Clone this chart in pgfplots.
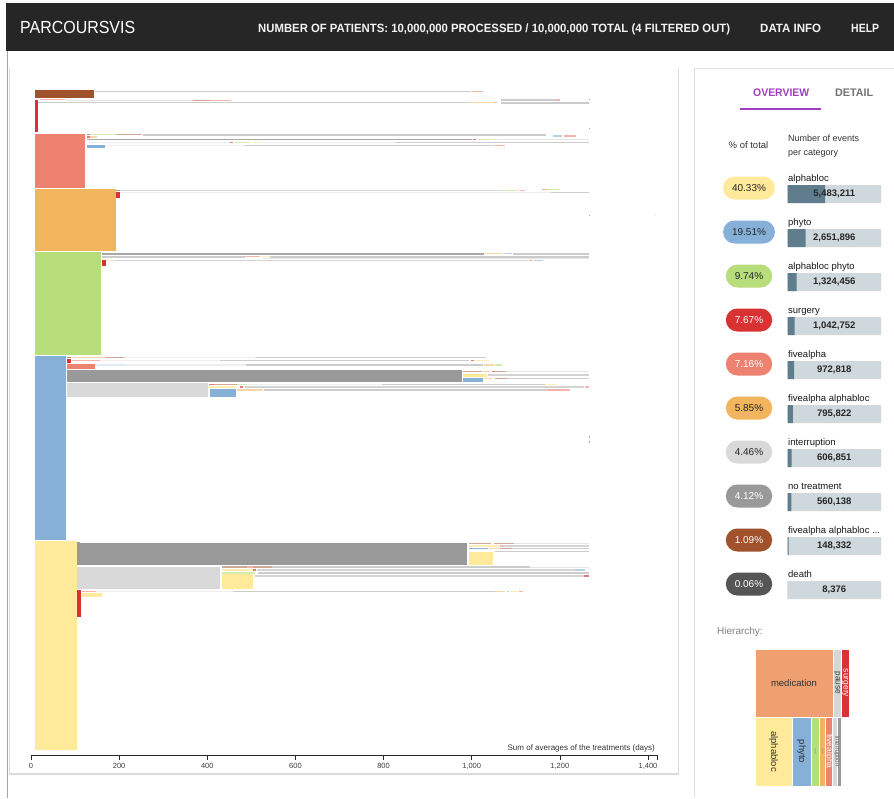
\documentclass[border=0pt]{standalone}
\usepackage{fontspec}
\setmainfont{Liberation Sans}
\usepackage{graphicx}
\usepackage{pgfplots}
\pgfplotsset{compat=1.18}
\definecolor{hdr}{HTML}{262626}
\definecolor{cYel}{HTML}{FFE99A}
\definecolor{cBlu}{HTML}{86B0D8}
\definecolor{cGrn}{HTML}{B8DD7B}
\definecolor{cRed}{HTML}{D93232}
\definecolor{cSal}{HTML}{EE8271}
\definecolor{cOra}{HTML}{F2B45D}
\definecolor{cLgr}{HTML}{D9D9D9}
\definecolor{cGry}{HTML}{999999}
\definecolor{cBrn}{HTML}{A0522D}
\definecolor{cDrk}{HTML}{555555}
\definecolor{cMed}{HTML}{EEA070}
\definecolor{purp}{HTML}{A33EC2}
\definecolor{barbg}{HTML}{CFD8DC}
\definecolor{bardk}{HTML}{5F7D8C}
\definecolor{g0}{HTML}{999999}
\definecolor{g1}{HTML}{CCCCCC}
\definecolor{g2}{HTML}{E6E6E6}
\definecolor{g3}{HTML}{A8A8A8}
\definecolor{g4}{HTML}{EEEEEE}
\definecolor{g5}{HTML}{D4D4D4}
\colorlet{lY}{cYel!75!white}
\colorlet{lB}{cBlu!60!white}
\colorlet{lG}{cGrn!60!white}
\colorlet{lS}{cSal!60!white}
\colorlet{lO}{cOra!55!white}
\colorlet{lBr}{cBrn!50!white}
\colorlet{lR}{cRed!65!white}
\newcommand{\R}[5]{\addplot[fill=#5, draw=none] coordinates {(#1,-#3) (#2,-#3) (#2,-#4) (#1,-#4)};}
\newcommand{\T}[5]{\addplot[fill=#5, draw=white, line width=0.6pt] coordinates {(#1,-#3) (#2,-#3) (#2,-#4) (#1,-#4) (#1,-#3)};}
\newcommand{\fs}[1]{\fontsize{#1}{#1}\selectfont}
\newcommand{\pill}[4]{\node[fill=#2, text=#3, rounded corners=11.5pt, minimum height=23pt, inner xsep=9pt, inner ysep=0pt, font=\fs{10}] at (749,-#1) {#4};}
\newcommand{\lab}[2]{\node[anchor=base west, inner sep=0pt, font=\fs{9.5}, text=black!90] at (788,-#1) {#2};}
\begin{document}
\begin{tikzpicture}[x=1pt,y=1pt]
\path[use as bounding box, fill=white] (0,0) rectangle (894,-798);
% header
\fill[hdr] (6,-3) rectangle (894,-51);
\node[anchor=base west, inner sep=0pt, text=white] at (20,-33.3) {\resizebox{115pt}{\height}{\fs{17.5}PARCOURSVIS}};
\node[anchor=base west, inner sep=0pt, text=white!95!black] at (258,-32) {\resizebox{472pt}{\height}{\fs{12}\bfseries NUMBER OF PATIENTS: 10,000,000 PROCESSED / 10,000,000 TOTAL (4 FILTERED OUT)}};
\node[anchor=base west, inner sep=0pt, text=white!95!black] at (760,-32) {\resizebox{61pt}{\height}{\fs{12}\bfseries DATA INFO}};
\node[anchor=base west, inner sep=0pt, text=white!95!black] at (851,-32) {\resizebox{28pt}{\height}{\fs{12}\bfseries HELP}};
% left line
\draw[black!35, line width=0.8pt] (7,-51) -- (7,-798);
% cards
\fill[black!14] (9,-67.5) rectangle (679,-775);
\fill[white] (10,-68) rectangle (678,-773);
\fill[black!12] (694,-67.5) rectangle (894,-798);
\fill[white] (695,-68.5) rectangle (894,-798);
% tabs
\node[anchor=base west, inner sep=0pt, text=purp] at (753,-96) {\resizebox{56pt}{\height}{\fs{11}\bfseries OVERVIEW}};
\node[anchor=base west, inner sep=0pt, text=black!55] at (835,-96) {\resizebox{38pt}{\height}{\fs{11}\bfseries DETAIL}};
\fill[purp] (740,-107.5) rectangle (821,-109.5);
\node[anchor=base, inner sep=0pt, font=\fs{9.5}, text=black!80] at (748.5,-148.5) {\% of total};
\node[anchor=base west, inner sep=0pt, font=\fs{9}, text=black!80] at (788,-141) {Number of events};
\node[anchor=base west, inner sep=0pt, font=\fs{9}, text=black!80] at (788,-155.5) {per category};
% pills
\pill{188}{cYel}{black!85}{40.33\%}
\pill{232}{cBlu}{black!85}{19.51\%}
\pill{276}{cGrn}{black!85}{9.74\%}
\pill{320}{cRed}{white}{7.67\%}
\pill{364}{cSal}{white}{7.16\%}
\pill{408}{cOra}{black!85}{5.85\%}
\pill{452}{cLgr}{black!85}{4.46\%}
\pill{496}{cGry}{white}{4.12\%}
\pill{540}{cBrn}{white}{1.09\%}
\pill{584}{cDrk}{white}{0.06\%}
\lab{181}{alphabloc}
\lab{225}{phyto}
\lab{269}{alphabloc phyto}
\lab{313}{surgery}
\lab{357}{fivealpha}
\lab{401}{fivealpha alphabloc}
\lab{445}{interruption}
\lab{489}{no treatment}
\lab{533}{fivealpha alphabloc ...}
\lab{577}{death}
\node[anchor=base west, inner sep=0pt, font=\fs{10}, text=black!50] at (717,-634) {Hierarchy:};

% ===== main chart =====
\begin{axis}[
  at={(31pt,-755pt)}, anchor=south west,
  scale only axis, width=626pt, height=670pt,
  xmin=0, xmax=1420.5, ymin=-755, ymax=-85,
  axis x line*=bottom, axis y line=none,
  x axis line style={-, line width=0.8pt, black!85},
  xtick={0,200,...,1400},
  extra x ticks={1420.5}, extra x tick labels={},
  tick align=outside, major tick length=5pt,
  xtick style={line width=0.6pt, black!85},
  ticklabel style={font=\fs{7.5}, text=black!75},
  /pgf/number format/assume math mode=true,
  /pgf/number format/1000 sep={,},
  clip=false,
]
% group 1
\R{9}{143}{90}{98}{cBrn}
\R{145}{998}{90.5}{92}{g1}
\R{1001}{1026}{90.5}{92}{lS}
\R{9}{16.5}{100}{132}{cRed}
\R{20}{77}{98.5}{99.8}{lS}
\R{77}{368}{99.5}{100.8}{g2}
\R{368}{406}{99.5}{100.8}{lBr}
\R{406}{454}{99.5}{100.8}{lS}
\R{1066}{1194}{99}{100.5}{g1}
\R{1194}{1200}{99}{100.5}{lS}
\R{17}{994}{101.5}{103}{g1}
\R{995}{1046}{101.5}{103}{lO}
\R{1048}{1057}{101.5}{103}{lS}
\R{1066}{1266}{102}{103.5}{g1}
% group 2
\R{9}{122.5}{134}{188}{cSal}
\R{126}{134}{133.5}{135}{g0}
\R{134}{192}{133.5}{135}{lG}
\R{194}{253}{133.5}{135}{lBr}
\R{254}{1169}{133.5}{135.5}{g1}
\R{1184}{1205}{135}{136.5}{lB}
\R{1210}{1237}{135}{136.5}{lS}
\R{126}{134}{136}{137.5}{lR}
\R{134}{150}{136}{137.5}{lO}
\R{126}{1001}{138.5}{140}{g3}
\R{1003}{1010}{138.5}{140}{lR}
\R{1014}{1048}{138.5}{140}{lG}
\R{1050}{1055}{138.5}{140}{lO}
\R{1057}{1266}{138.5}{140}{g2}
\R{126}{452}{141.5}{143}{g4}
\R{452}{458}{141.5}{143}{lR}
\R{463}{497}{141.5}{143}{lG}
\R{504}{524}{141.5}{143}{lY}
\R{524}{827}{141.5}{143}{g4}
\R{827}{1266}{141.5}{143}{g1}
\R{168}{486}{144.5}{146}{g4}
\R{486}{1048}{144.5}{146}{g1}
\R{1050}{1075}{144.5}{146}{lS}
\R{126}{168}{145}{148}{cBlu}
% group 3
\R{9}{192}{189}{251}{cOra}
\R{193}{202}{189.5}{191}{g0}
\R{202}{1064}{189.5}{191}{g5}
\R{1064}{1100}{189.5}{191}{lG}
\R{1103}{1107}{189.5}{191}{lO}
\R{1110}{1121}{189.5}{191}{lS}
\R{1159}{1171}{188.5}{190}{lS}
\R{1171}{1200}{188.5}{190}{lG}
\R{202}{1180}{191.8}{193.2}{g4}
\R{1180}{1266}{191.8}{193.2}{g1}
\R{193}{201}{192}{198}{cRed}
% group 4
\R{9}{159}{252}{355}{cGrn}
\R{161}{1028}{252.5}{254.5}{g3}
\R{1030}{1068}{252.5}{254}{lO}
\R{1070}{1075}{252.5}{254}{lG}
\R{1075}{1091}{252.5}{254}{lB}
\R{1093}{1266}{253}{254.5}{g1}
\R{161}{485}{256}{257.5}{g1}
\R{485}{520}{255.5}{257}{lS}
\R{524}{542}{255.5}{257}{lY}
\R{542}{1266}{256}{257.5}{g1}
\R{526}{1266}{258.2}{259.4}{g2}
\R{171}{188}{259.5}{261}{lY}
\R{188}{1128}{259.5}{261}{g5}
\R{1130}{1139}{259.5}{261}{lS}
\R{1141}{1161}{259.5}{261}{lB}
\R{162}{171}{260}{266}{cRed}
% group 5
\R{9}{79}{356}{540}{cBlu}
\R{82}{91}{356.5}{358}{g0}
\R{91}{166}{356.5}{358}{lO}
\R{168}{211}{356.5}{358}{lBr}
\R{211}{504}{356.5}{358}{g4}
\R{508}{1032}{356.5}{358}{g1}
\R{82}{90}{359}{362.5}{cRed}
\R{93}{157}{359.5}{361}{lS}
\R{157}{429}{359.5}{361}{g4}
\R{429}{994}{359.5}{361}{g1}
\R{998}{1005}{359.5}{361}{lR}
\R{1007}{1039}{359.5}{361}{lY}
\R{82}{144.5}{364}{369}{cSal}
\R{145}{213}{364}{365.5}{cBlu!25!white}
\R{213}{487}{364}{365.5}{g4}
\R{487}{1026}{364}{365.5}{g1}
\R{1028}{1050}{364}{365.5}{lO}
\R{1053}{1069}{364}{365.5}{lG}
\R{82}{977}{370.3}{382.3}{cGry}
\R{980}{1023}{370.5}{372}{lBr}
\R{1026}{1042}{370.5}{372}{lO}
\R{1046}{1053}{370.5}{372}{lR}
\R{1053}{1078}{370.5}{372}{lBr}
\R{1078}{1266}{370.5}{372}{g2}
\R{980}{1035}{373.5}{376.5}{cYel}
\R{1037}{1266}{374}{375.5}{g5}
\R{1028}{1048}{377.5}{379}{lO}
\R{1053}{1080}{377.5}{379}{lBr}
\R{1080}{1266}{377.5}{379}{g1}
\R{980}{1026}{378.3}{382.3}{cBlu}
\R{82}{401.6}{383}{397}{cLgr}
\R{404}{415}{383.5}{385}{lR}
\R{415}{467}{383.5}{385}{lBr}
\R{467}{490}{383.5}{385}{lG}
\R{490}{796}{383.5}{385}{g4}
\R{796}{1166}{383.5}{385}{g1}
\R{1166}{1193}{383.5}{385}{lY}
\R{404}{467}{386.3}{387.7}{lY}
\R{474}{481}{386.3}{387.7}{lR}
\R{485}{1254}{386.3}{387.7}{g5}
\R{1256}{1266}{386.3}{387.7}{lS}
\R{467}{526}{389}{390.5}{lO}
\R{528}{1170}{389}{390.5}{g1}
\R{1170}{1222}{389}{390.5}{lS}
\R{406}{465}{389}{397}{cBlu}
% group 6
\R{9}{104}{541}{750}{cYel}
\R{104}{111}{541.5}{543}{g0}
\R{104}{989}{542.5}{565}{cGry}
\R{994}{1044}{542.5}{544}{lBr}
\R{1051}{1096}{542.5}{544}{lBr}
\R{1096}{1266}{542.5}{544}{g2}
\R{994}{1062}{545}{546.5}{lY}
\R{1064}{1071}{545}{546.5}{lS}
\R{1071}{1266}{545}{546.5}{g5}
\R{994}{1037}{547.5}{549}{cBlu}
\R{1039}{1062}{547.5}{549}{lO}
\R{1064}{1089}{547.5}{549}{lBr}
\R{1089}{1266}{547.5}{549}{g1}
\R{1053}{1266}{550.5}{552}{g1}
\R{994}{1049}{551.7}{565}{cYel}
\R{105}{429}{566.7}{589}{cLgr}
\R{433}{490}{566}{567.5}{lBr}
\R{490}{504}{566}{567.5}{lS}
\R{504}{547}{566}{567.5}{lBr}
\R{547}{1132}{566}{567.5}{g1}
\R{1132}{1266}{566.5}{568}{g2}
\R{433}{501}{569}{570.5}{lY}
\R{504}{511}{569}{570.5}{lR}
\R{513}{1234}{569}{570.5}{g5}
\R{1234}{1256}{569}{570.5}{lB}
\R{433}{508}{572}{573.5}{lG}
\R{515}{1266}{572}{573.5}{g1}
\R{433}{504}{573.5}{589}{cYel}
\R{508}{1254}{575}{576.5}{g5}
\R{1254}{1266}{575}{576.5}{lR}
\R{104}{113}{590}{617}{cRed}
\R{115}{148}{590.5}{592}{lS}
\R{148}{458}{590.5}{592}{g4}
\R{458}{1053}{590.5}{592}{g1}
\R{1053}{1075}{590.5}{592}{lO}
\R{1080}{1085}{590.5}{592}{lB}
\R{1087}{1105}{590.5}{592}{lY}
\R{1107}{1116}{590.5}{592}{lS}
\R{115}{160}{593.3}{596.7}{cYel}
% ellipsis dots
\R{1266}{1268.5}{98.5}{100}{g3}
\R{1266}{1268.5}{127.5}{129}{g3}
\R{1266}{1268.5}{214.5}{216}{g3}
\R{1266}{1268.5}{436}{437.5}{g3}
\R{1266}{1268.5}{441}{442.5}{g3}
\R{1416}{1418.5}{214.5}{216}{g2}
\node[anchor=base east, inner sep=0pt, font=\fs{8}, text=black!80] at (axis cs:1416,-750) {Sum of averages of the treatments (days)};
\end{axis}

% ===== event bars =====
\begin{axis}[
  at={(787.5pt,-600pt)}, anchor=south west,
  scale only axis, width=93.5pt, height=430pt,
  xmin=0, xmax=13594652, ymin=-600, ymax=-170,
  axis lines=none, clip=false,
]
\addplot[xbar, bar width=18pt, bar shift=0pt, fill=barbg, draw=none] coordinates {
(13594652,-194) (13594652,-238) (13594652,-282) (13594652,-326) (13594652,-370)
(13594652,-414) (13594652,-458) (13594652,-502) (13594652,-546) (13594652,-590)};
\addplot[xbar, bar width=18pt, bar shift=0pt, fill=bardk, draw=none] coordinates {
(5483211,-194) (2651896,-238) (1324456,-282) (1042752,-326) (972818,-370)
(795822,-414) (606851,-458) (560138,-502) (148332,-546) (8376,-590)};
\node[font=\fs{9.5}\bfseries, text=black!85] at (axis cs:6797326,-194) {5,483,211};
\node[font=\fs{9.5}\bfseries, text=black!85] at (axis cs:6797326,-238) {2,651,896};
\node[font=\fs{9.5}\bfseries, text=black!85] at (axis cs:6797326,-282) {1,324,456};
\node[font=\fs{9.5}\bfseries, text=black!85] at (axis cs:6797326,-326) {1,042,752};
\node[font=\fs{9.5}\bfseries, text=black!85] at (axis cs:6797326,-370) {972,818};
\node[font=\fs{9.5}\bfseries, text=black!85] at (axis cs:6797326,-414) {795,822};
\node[font=\fs{9.5}\bfseries, text=black!85] at (axis cs:6797326,-458) {606,851};
\node[font=\fs{9.5}\bfseries, text=black!85] at (axis cs:6797326,-502) {560,138};
\node[font=\fs{9.5}\bfseries, text=black!85] at (axis cs:6797326,-546) {148,332};
\node[font=\fs{9.5}\bfseries, text=black!85] at (axis cs:6797326,-590) {8,376};
\end{axis}

% ===== treemap =====
\begin{axis}[
  at={(755pt,-786pt)}, anchor=south west,
  scale only axis, width=94pt, height=137pt,
  xmin=755, xmax=849, ymin=-786, ymax=-649,
  axis lines=none, clip=false,
]
\T{755}{833}{649}{717}{cMed}
\T{833}{841}{649}{717}{cLgr!85!black!10!cLgr}
\T{841}{849}{649}{717}{cRed}
\T{755}{792}{717}{786}{cYel}
\T{792}{811}{717}{786}{cBlu}
\T{811}{819.5}{717}{786}{cGrn}
\T{819.5}{825.5}{717}{786}{cOra}
\T{825.5}{832.5}{717}{786}{cSal}
\T{832.5}{837}{717}{786}{cLgr}
\T{837}{841}{717}{786}{cGry}
\node[font=\fs{9.5}, text=black!80] at (axis cs:794,-683) {medication};
\node[font=\fs{8.3}, text=black!75, rotate=-90] at (axis cs:837,-683) {pause};
\node[font=\fs{8.5}, text=white, rotate=-90] at (axis cs:845,-683) {surgery};
\node[font=\fs{9.5}, text=black!80, rotate=-90] at (axis cs:773.5,-751.5) {alphabloc};
\node[font=\fs{9.5}, text=black!80, rotate=-90] at (axis cs:801.5,-751.5) {phyto};
\node[font=\fs{7}, text=black!70, rotate=-90] at (axis cs:815.3,-751.5) {...};
\node[font=\fs{7}, text=black!70, rotate=-90] at (axis cs:822.5,-751.5) {...};
\node[font=\fs{8.5}, text=white, rotate=-90] at (axis cs:829,-751.5) {fivealpha};
\node[font=\fs{6}, text=black!60, rotate=-90] at (axis cs:837,-751.5) {interruption};
\end{axis}
\end{tikzpicture}
\end{document}
